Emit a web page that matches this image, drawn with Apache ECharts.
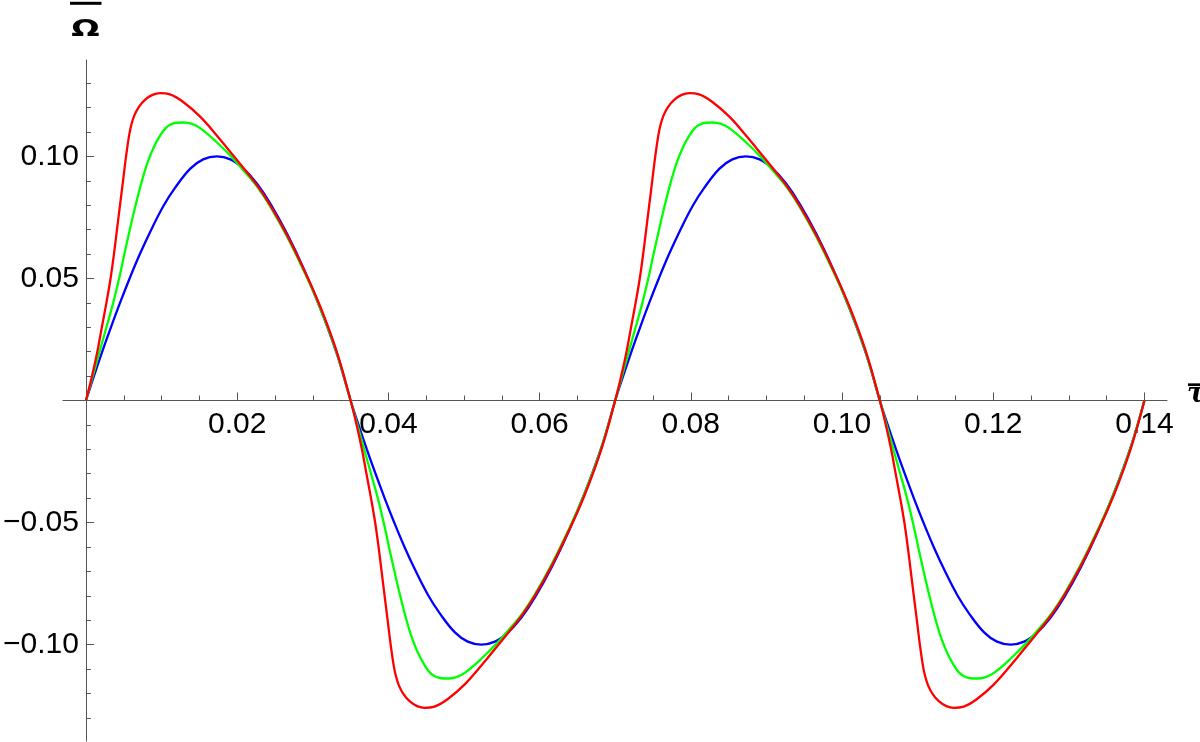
<!DOCTYPE html>
<html>
<head>
<meta charset="utf-8">
<script src="https://cdn.jsdelivr.net/npm/echarts@6/dist/echarts.min.js"></script>
<style>
  html, body { margin: 0; padding: 0; background: #fff; }
  #chart { width: 1200px; height: 742px; }
</style>
</head>
<body>
<div id="chart"></div>
<script>
// values, [tau, omega]
var blueData = [
  [0,0],[0.00105,0.010],[0.00215,0.020],[0.0033,0.030],[0.0045,0.040],[0.00577,0.050],[0.00713,0.060],[0.00863,0.070],[0.0103,0.080],[0.0118,0.0872],[0.0138,0.0950],[0.0155,0.0988],[0.0173,0.1000],[0.0191,0.0988],[0.0208,0.0951],[0.0226,0.0889],[0.0244,0.0806],[0.0266,0.0683],[0.0288,0.0540],[0.0310,0.0377],[0.0332,0.0190],[0.0350,0],
  [0.03605,-0.010],[0.03715,-0.020],[0.0383,-0.030],[0.0395,-0.040],[0.04077,-0.050],[0.04213,-0.060],[0.04363,-0.070],[0.0453,-0.080],[0.0468,-0.0872],[0.0488,-0.0950],[0.0505,-0.0988],[0.0523,-0.1000],[0.0541,-0.0988],[0.0558,-0.0951],[0.0576,-0.0889],[0.0594,-0.0806],[0.0616,-0.0683],[0.0638,-0.0540],[0.0660,-0.0377],[0.0682,-0.0190],[0.0700,0],
  [0.07105,0.010],[0.07215,0.020],[0.0733,0.030],[0.0745,0.040],[0.07577,0.050],[0.07713,0.060],[0.07863,0.070],[0.0803,0.080],[0.0818,0.0872],[0.0838,0.0950],[0.0855,0.0988],[0.0873,0.1000],[0.0891,0.0988],[0.0908,0.0951],[0.0926,0.0889],[0.0944,0.0806],[0.0966,0.0683],[0.0988,0.0540],[0.1010,0.0377],[0.1032,0.0190],[0.1050,0],
  [0.10605,-0.010],[0.10715,-0.020],[0.1083,-0.030],[0.1095,-0.040],[0.11077,-0.050],[0.11213,-0.060],[0.11363,-0.070],[0.1153,-0.080],[0.1168,-0.0872],[0.1188,-0.0950],[0.1205,-0.0988],[0.1223,-0.1000],[0.1241,-0.0988],[0.1258,-0.0951],[0.1276,-0.0889],[0.1294,-0.0806],[0.1316,-0.0683],[0.1338,-0.0540],[0.1360,-0.0377],[0.1382,-0.0190],[0.1400,0]
];
var greenData = [
  [0,0],[0.0009,0.010],[0.0018,0.020],[0.0027,0.030],[0.0036,0.040],[0.0044,0.0503],[0.0051,0.0603],[0.0058,0.0700],[0.0066,0.0805],[0.0074,0.0900],[0.0082,0.0980],[0.0090,0.1040],[0.0098,0.1085],[0.0105,0.1115],[0.0112,0.1131],[0.0120,0.1138],[0.0129,0.1139],[0.0140,0.1133],[0.0151,0.1116],[0.0173,0.1058],[0.0195,0.0990],[0.0213,0.0926],[0.0228,0.0869],[0.0244,0.0793],[0.0266,0.0671],[0.0288,0.0532],[0.0310,0.0377],[0.0332,0.0191],[0.0350,0],
  [0.0359,-0.010],[0.0368,-0.020],[0.0377,-0.030],[0.0386,-0.040],[0.0394,-0.0503],[0.0401,-0.0603],[0.0408,-0.0700],[0.0416,-0.0805],[0.0424,-0.0900],[0.0432,-0.0980],[0.0440,-0.1040],[0.0448,-0.1085],[0.0455,-0.1115],[0.0462,-0.1131],[0.0470,-0.1138],[0.0479,-0.1139],[0.0490,-0.1133],[0.0501,-0.1116],[0.0523,-0.1058],[0.0545,-0.0990],[0.0563,-0.0926],[0.0578,-0.0869],[0.0594,-0.0793],[0.0616,-0.0671],[0.0638,-0.0532],[0.0660,-0.0377],[0.0682,-0.0191],[0.0700,0],
  [0.0709,0.010],[0.0718,0.020],[0.0727,0.030],[0.0736,0.040],[0.0744,0.0503],[0.0751,0.0603],[0.0758,0.0700],[0.0766,0.0805],[0.0774,0.0900],[0.0782,0.0980],[0.0790,0.1040],[0.0798,0.1085],[0.0805,0.1115],[0.0812,0.1131],[0.0820,0.1138],[0.0829,0.1139],[0.0840,0.1133],[0.0851,0.1116],[0.0873,0.1058],[0.0895,0.0990],[0.0913,0.0926],[0.0928,0.0869],[0.0944,0.0793],[0.0966,0.0671],[0.0988,0.0532],[0.1010,0.0377],[0.1032,0.0191],[0.1050,0],
  [0.1059,-0.010],[0.1068,-0.020],[0.1077,-0.030],[0.1086,-0.040],[0.1094,-0.0503],[0.1101,-0.0603],[0.1108,-0.0700],[0.1116,-0.0805],[0.1124,-0.0900],[0.1132,-0.0980],[0.1140,-0.1040],[0.1148,-0.1085],[0.1155,-0.1115],[0.1162,-0.1131],[0.1170,-0.1138],[0.1179,-0.1139],[0.1190,-0.1133],[0.1201,-0.1116],[0.1223,-0.1058],[0.1245,-0.0990],[0.1263,-0.0926],[0.1278,-0.0869],[0.1294,-0.0793],[0.1316,-0.0671],[0.1338,-0.0532],[0.1360,-0.0377],[0.1382,-0.0191],[0.1400,0]
];
var redData = [
  [0,0],[0.0008,0.010],[0.0015,0.020],[0.0021,0.030],[0.0027,0.040],[0.00325,0.050],[0.0037,0.060],[0.0041,0.070],[0.0045,0.080],[0.0049,0.090],[0.0053,0.100],[0.0057,0.1085],[0.0060,0.1130],[0.0064,0.1168],[0.0070,0.1203],[0.0078,0.1232],[0.0088,0.1252],[0.0098,0.1259],[0.0111,0.1254],[0.0129,0.1222],[0.0151,0.1163],[0.0173,0.1086],[0.0195,0.1003],[0.0213,0.0934],[0.0228,0.0874],[0.0244,0.0798],[0.0266,0.0677],[0.0288,0.0538],[0.0310,0.0384],[0.0332,0.0197],[0.0350,0],
  [0.0358,-0.010],[0.0365,-0.020],[0.0371,-0.030],[0.0377,-0.040],[0.03825,-0.050],[0.0387,-0.060],[0.0391,-0.070],[0.0395,-0.080],[0.0399,-0.090],[0.0403,-0.100],[0.0407,-0.1085],[0.0410,-0.1130],[0.0414,-0.1168],[0.0420,-0.1203],[0.0428,-0.1232],[0.0438,-0.1252],[0.0448,-0.1259],[0.0461,-0.1254],[0.0479,-0.1222],[0.0501,-0.1163],[0.0523,-0.1086],[0.0545,-0.1003],[0.0563,-0.0934],[0.0578,-0.0874],[0.0594,-0.0798],[0.0616,-0.0677],[0.0638,-0.0538],[0.0660,-0.0384],[0.0682,-0.0197],[0.0700,0],
  [0.0708,0.010],[0.0715,0.020],[0.0721,0.030],[0.0727,0.040],[0.07325,0.050],[0.0737,0.060],[0.0741,0.070],[0.0745,0.080],[0.0749,0.090],[0.0753,0.100],[0.0757,0.1085],[0.0760,0.1130],[0.0764,0.1168],[0.0770,0.1203],[0.0778,0.1232],[0.0788,0.1252],[0.0798,0.1259],[0.0811,0.1254],[0.0829,0.1222],[0.0851,0.1163],[0.0873,0.1086],[0.0895,0.1003],[0.0913,0.0934],[0.0928,0.0874],[0.0944,0.0798],[0.0966,0.0677],[0.0988,0.0538],[0.1010,0.0384],[0.1032,0.0197],[0.1050,0],
  [0.1058,-0.010],[0.1065,-0.020],[0.1071,-0.030],[0.1077,-0.040],[0.10825,-0.050],[0.1087,-0.060],[0.1091,-0.070],[0.1095,-0.080],[0.1099,-0.090],[0.1103,-0.100],[0.1107,-0.1085],[0.1110,-0.1130],[0.1114,-0.1168],[0.1120,-0.1203],[0.1128,-0.1232],[0.1138,-0.1252],[0.1148,-0.1259],[0.1161,-0.1254],[0.1179,-0.1222],[0.1201,-0.1163],[0.1223,-0.1086],[0.1245,-0.1003],[0.1263,-0.0934],[0.1278,-0.0874],[0.1294,-0.0798],[0.1316,-0.0677],[0.1338,-0.0538],[0.1360,-0.0384],[0.1382,-0.0197],[0.1400,0]
];

// ticks and labels
var xMajorTicks = [0.02, 0.04, 0.06, 0.08, 0.10, 0.12, 0.14];
var xMinorTicks = [0.005, 0.01, 0.015, 0.025, 0.03, 0.035, 0.045, 0.05, 0.055, 0.065, 0.07, 0.075,
  0.085, 0.09, 0.095, 0.105, 0.11, 0.115, 0.125, 0.13, 0.135];
var yMajorTicks = [-0.10, -0.05, 0.05, 0.10];
var yMinorTicks = [-0.13, -0.12, -0.11, -0.09, -0.08, -0.07, -0.06, -0.04, -0.03, -0.02, -0.01,
  0.01, 0.02, 0.03, 0.04, 0.06, 0.07, 0.08, 0.09, 0.11, 0.12, 0.13];

var X_MIN = -0.00304, X_MAX = 0.14299;
var Y_MIN = -0.1395, Y_MAX = 0.1395;

// grid box in pixels; the axes cross at (0, 0) inside it
var G_LEFT = 63, G_TOP = 60, G_W = 1104, G_H = 681;
var zeroX = G_LEFT + G_W * (0 - X_MIN) / (X_MAX - X_MIN);
var zeroY = G_TOP + G_H * Y_MAX / (Y_MAX - Y_MIN);

var axisColor = "#555";

function fmt(v) {
  return (v < 0 ? "\u2212" : "") + Math.abs(v).toFixed(2);
}

var chart = echarts.init(document.getElementById("chart"));
var option = {
  animation: false,
  backgroundColor: "#fff",
  grid: { left: G_LEFT, top: G_TOP, width: G_W, height: G_H, containLabel: false, outerBoundsMode: "none" },
  xAxis: [
    {
      type: "value", min: X_MIN, max: X_MAX, position: "bottom",
      offset: -(G_TOP + G_H - zeroY),
      axisLine: { onZero: false, lineStyle: { color: axisColor, width: 1 } },
      axisTick: { inside: true, length: 8, customValues: xMajorTicks, lineStyle: { color: axisColor } },
      axisLabel: {
        customValues: xMajorTicks, formatter: fmt, margin: 9,
        color: "#000", fontSize: 30, fontFamily: "Liberation Sans"
      },
      splitLine: { show: false }
    },
    {
      type: "value", min: X_MIN, max: X_MAX, position: "top",
      offset: -(zeroY - G_TOP),
      axisLine: { show: false, onZero: false },
      axisTick: { inside: false, length: 5, customValues: xMinorTicks, lineStyle: { color: axisColor } },
      axisLabel: { show: false },
      splitLine: { show: false }
    }
  ],
  yAxis: [
    {
      type: "value", min: Y_MIN, max: Y_MAX, position: "left",
      offset: -(zeroX - G_LEFT),
      axisLine: { onZero: false, lineStyle: { color: axisColor, width: 1 } },
      axisTick: { inside: true, length: 8, customValues: yMajorTicks, lineStyle: { color: axisColor } },
      axisLabel: {
        customValues: yMajorTicks, formatter: fmt, margin: 7,
        color: "#000", fontSize: 30, fontFamily: "Liberation Sans"
      },
      splitLine: { show: false }
    },
    {
      type: "value", min: Y_MIN, max: Y_MAX, position: "right",
      offset: -(G_LEFT + G_W - zeroX),
      axisLine: { show: false, onZero: false },
      axisTick: { inside: false, length: 5, customValues: yMinorTicks, lineStyle: { color: axisColor } },
      axisLabel: { show: false },
      splitLine: { show: false }
    }
  ],
  graphic: [
    { type: "text", x: 85.5, y: 30, scaleX: 1.45,
      style: { text: "\u03A9", font: 'bold 23px "DejaVu Sans"', fill: "#000",
               align: "center", verticalAlign: "middle", textAlign: "center", textVerticalAlign: "middle" } },
    { type: "line", shape: { x1: 70, y1: 3.3, x2: 101.5, y2: 3.3 }, style: { stroke: "#000", lineWidth: 3 } },
    { type: "text", x: 1187, y: 395,
      style: { text: "\u03C4", font: 'italic bold 27px "DejaVu Serif"', fill: "#000",
               align: "left", verticalAlign: "middle", textAlign: "left", textVerticalAlign: "middle" } },
    { type: "line", shape: { x1: 1188, y1: 384.7, x2: 1201, y2: 384.7 }, style: { stroke: "#000", lineWidth: 2.7 } }
  ],
  series: [
    { name: "blue", type: "line", data: blueData, showSymbol: false, smooth: 0.4,
      lineStyle: { color: "#0000ff", width: 2.3 }, itemStyle: { color: "#0000ff" } },
    { name: "green", type: "line", data: greenData, showSymbol: false, smooth: 0.4,
      lineStyle: { color: "#00ff00", width: 2.3 }, itemStyle: { color: "#00ff00" } },
    { name: "red", type: "line", data: redData, showSymbol: false, smooth: 0.4,
      lineStyle: { color: "#ff0000", width: 2.3 }, itemStyle: { color: "#ff0000" } }
  ]
};
chart.setOption(option);
</script>
</body>
</html>
